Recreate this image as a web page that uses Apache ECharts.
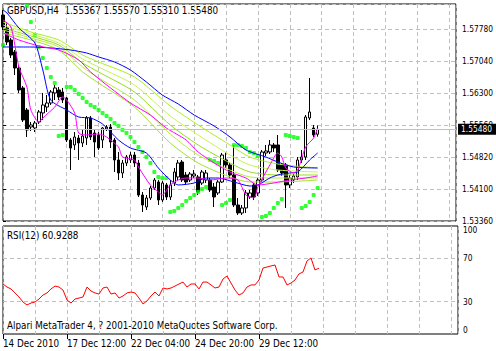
<!DOCTYPE html>
<html><head><meta charset="utf-8">
<script src="https://cdn.jsdelivr.net/npm/echarts@6.0.0/dist/echarts.min.js"></script>
<style>html,body{margin:0;padding:0;background:#fff}#c{width:496px;height:351px}</style>
</head><body><div id="c"></div>
<script>
// ---- data (GBPUSD H4) ----
const opens = [1.58124,1.57823,1.57546,1.57268,1.56898,1.56436,1.55927,1.55534,1.55511,1.55649,
1.55858,1.55996,1.56089,1.56320,1.56389,1.56343,1.56204,1.55233,1.55118,1.55279,
1.55164,1.55279,1.55742,1.55395,1.55349,1.55233,1.55488,1.55534,1.55233,1.54771,
1.54470,1.54701,1.54771,1.54886,1.54701,1.53961,1.53684,1.53892,1.54123,1.54262,
1.53846,1.54193,1.53915,1.54239,1.54378,1.54724,1.54424,1.54308,1.54401,1.54378,
1.54239,1.54308,1.54308,1.54146,1.54008,1.54262,1.54771,1.54655,1.54424,1.53730,
1.53545,1.53661,1.53915,1.54193,1.54008,1.54308,1.54933,1.54956,1.55118,1.55118,
1.54655,1.54655,1.54193,1.54308,1.54378,1.54771,1.54840,1.55742,1.55511,1.55367];
const closes = [1.57846,1.57499,1.57199,1.56898,1.56389,1.55696,1.55464,1.55580,1.55626,1.55881,
1.56043,1.56089,1.56343,1.56436,1.56228,1.56158,1.55233,1.55048,1.55303,1.55164,
1.55326,1.55742,1.55303,1.55187,1.55048,1.55511,1.55534,1.55187,1.54771,1.54470,
1.54701,1.54840,1.54886,1.54701,1.53961,1.53730,1.53892,1.54123,1.54308,1.53846,
1.54239,1.53915,1.54193,1.54493,1.54701,1.54308,1.54262,1.54447,1.54447,1.54031,
1.54493,1.54470,1.54077,1.53915,1.54262,1.54886,1.54655,1.54424,1.53730,1.53545,
1.53661,1.54008,1.54008,1.53915,1.54308,1.54956,1.54979,1.55118,1.55048,1.54539,
1.54470,1.54193,1.54354,1.54401,1.54771,1.54840,1.55765,1.55881,1.55349,1.55480];
const lows = [1.57777,1.57430,1.57129,1.56736,1.56320,1.55649,1.55303,1.55441,1.55418,1.55603,
1.55696,1.55881,1.56043,1.56158,1.56158,1.56089,1.55187,1.54539,1.55002,1.54771,
1.55071,1.55118,1.55233,1.54840,1.55002,1.55048,1.55441,1.55048,1.54493,1.54308,
1.54354,1.54632,1.54701,1.54609,1.53915,1.53568,1.53614,1.53846,1.54077,1.53730,
1.53799,1.53846,1.53846,1.54169,1.54308,1.54262,1.54193,1.54262,1.54354,1.53961,
1.54193,1.54239,1.54031,1.53684,1.53961,1.54239,1.54586,1.54354,1.53684,1.53499,
1.53499,1.53545,1.53869,1.53846,1.53938,1.54262,1.54863,1.54909,1.54956,1.54493,
1.54401,1.53661,1.54123,1.54239,1.54308,1.54701,1.54771,1.55696,1.55303,1.55310];
const highs = [1.58239,1.57962,1.57592,1.57314,1.56968,1.56482,1.55973,1.55649,1.55673,1.55927,
1.56320,1.56274,1.56389,1.56505,1.56459,1.56436,1.56228,1.55279,1.55418,1.55349,
1.55464,1.55788,1.55788,1.55464,1.55418,1.55534,1.55580,1.55603,1.55279,1.54956,
1.54771,1.54886,1.54956,1.54956,1.54771,1.54031,1.53961,1.54169,1.54354,1.54308,
1.54285,1.54239,1.54308,1.54586,1.54771,1.54771,1.54493,1.54493,1.54539,1.54424,
1.54539,1.54539,1.54354,1.54239,1.54308,1.54933,1.54956,1.54701,1.55118,1.53892,
1.53730,1.54077,1.54077,1.54239,1.54354,1.55002,1.55118,1.55233,1.55164,1.55349,
1.54701,1.54701,1.54424,1.54447,1.54840,1.55002,1.55811,1.56667,1.55580,1.55570];
const sar = [1.57430,null,null,null,null,null,1.58332,1.57962,1.57661,1.57384,
1.57129,1.56898,1.56690,1.56551,1.55326,1.55349,1.56459,1.56459,1.56389,1.56297,
1.56204,1.56112,1.56043,1.55996,1.55927,1.55858,1.55788,1.55719,1.55626,1.55557,
1.55464,1.55395,1.55303,1.55187,1.55071,1.54956,1.54840,1.54701,1.54493,1.54378,
1.54354,1.54354,1.53568,1.53591,1.53661,1.53730,1.53823,1.53892,1.53961,1.54031,
1.54100,1.54146,1.54771,1.54748,1.54701,1.53730,1.53776,1.53846,1.55118,1.55118,
1.55094,1.55048,1.54956,1.54933,1.54863,1.53453,1.53476,1.53545,1.53661,1.53776,
1.53869,1.55349,1.55326,1.55303,1.55279,1.53661,1.53707,1.53799,1.53961,1.54123];
const slowBlueIdx = [0,7,12,17,21,24,28,32,36,40,44,48,53,57,61,66,69,73,79];
const slowBlueVal = [1.57384,1.57384,1.57361,1.57314,1.57245,1.57153,1.57037,1.56852,1.56574,1.56274,1.56066,1.55811,1.55557,1.55303,1.55002,1.54840,1.54724,1.54609,1.54586];
const fastBlueIdx = [0,1,4,8,10,12,16,19,22,25,29,32,36,39,42,44,48,51,54,58,62,64,67,69,72,74,77,79];
const fastBlueVal = [1.58239,1.58170,1.57823,1.57476,1.56852,1.56158,1.55927,1.55765,1.55742,1.55603,1.55233,1.55048,1.54933,1.54586,1.54308,1.54193,1.54239,1.54354,1.54354,1.54262,1.54169,1.54193,1.54354,1.54424,1.54470,1.54493,1.54771,1.54933];
const fastMagIdx = [0,2,4,6,7,9,10,13,15,16,18,19,21,24,26,29,30,33,34,37,39,40,42,44,46,49,52,56,59,61,63,64,67,69,70,71,73,74,76,78,79];
const fastMagVal = [1.58008,1.57846,1.56921,1.56459,1.55927,1.55649,1.55742,1.55996,1.56228,1.56158,1.55858,1.55395,1.55349,1.55372,1.55303,1.55071,1.54840,1.54771,1.54609,1.54193,1.54031,1.53961,1.54193,1.54308,1.54354,1.54354,1.54308,1.54354,1.54308,1.53961,1.53892,1.54146,1.54655,1.54933,1.54840,1.54586,1.54470,1.54539,1.55071,1.55279,1.55511];
const slowMagIdx = [0,4,9,14,19,22,27,32,37,41,46,49,53,57,61,64,68,72,76,79];
const slowMagVal = [1.57708,1.57546,1.57407,1.57314,1.57083,1.56806,1.56436,1.56089,1.55811,1.55511,1.55233,1.54956,1.54701,1.54493,1.54354,1.54193,1.54239,1.54308,1.54354,1.54401];
const fanIdx = [0,7,14,20,24,33,42,49,57,62,69,79];
const fan1 = [1.57962,1.57731,1.57546,1.57199,1.57037,1.56690,1.56019,1.55580,1.55118,1.54840,1.54678,1.54586];
const fan2 = [1.57893,1.57684,1.57476,1.57106,1.56921,1.56505,1.55788,1.55349,1.54886,1.54655,1.54539,1.54493];
const fan3 = [1.57823,1.57638,1.57430,1.57014,1.56806,1.56343,1.55580,1.55118,1.54701,1.54493,1.54424,1.54424];
const fan4 = [1.57777,1.57592,1.57384,1.56921,1.56667,1.56158,1.55372,1.54886,1.54539,1.54378,1.54354,1.54354];
const fan5 = [1.57708,1.57546,1.57314,1.56806,1.56551,1.55996,1.55164,1.54701,1.54378,1.54262,1.54262,1.54308];
const rsi = [46.3,43.5,41.7,38.0,34.3,29.6,26.9,28.7,29.6,32.4,
36.1,38.0,41.7,44.4,43.5,40.7,31.5,28.7,32.4,33.3,
34.3,43.5,39.8,38.0,37.0,42.6,43.5,37.0,38.0,33.3,
35.2,38.0,38.9,38.0,33.3,27.8,30.6,35.2,38.9,35.2,
42.6,41.7,42.6,44.4,46.3,48.1,43.5,46.3,46.3,41.7,
48.1,48.1,45.4,42.6,43.5,50.9,53.7,47.2,40.7,36.1,
38.0,43.5,45.4,45.4,50.0,61.1,62.0,63.0,63.9,52.8,
52.8,45.4,47.2,50.0,55.6,57.4,67.6,70.4,59.3,60.93];
const priceTickLabels = ['1.53360','1.54100','1.54820','1.55560','1.56300','1.57040','1.57780'];
const dateTickValues = [0,16,32,48,64];
const dateTickLabels = ['14 Dec 2010','17 Dec 12:00','22 Dec 04:00','24 Dec 20:00','29 Dec 12:00'];
const rsiTickValues = [0,30,70,100];
const titleText = 'GBPUSD,H4  1.55367 1.55570 1.55310 1.55480';
const rsiText = 'RSI(12) 60.9288';
const copyText = 'Alpari MetaTrader 4, ? 2001-2010 MetaQuotes Software Corp.';

// ---- layout ----
const FONT = '"Liberation Sans Narrow","DejaVu Sans Condensed","Liberation Sans",sans-serif';
const mctx = document.createElement('canvas').getContext('2d');
function textWidth(size, text) { mctx.font = size + 'px ' + FONT; return mctx.measureText(text).width; }
// scale the font so that the texts occupy the same width as in the reference
const FS_NUM = Math.min(11, 10.5 * 31 / textWidth(10.5, '1.57780'));
const FS_TXT = Math.min(11, 10.5 * 271 / textWidth(10.5, copyText));
const PRICE_MIN = 1.5336, PRICE_STEP = 0.0074, PRICE_MAX = 1.58378;
const X_MAX = 113.75;
const GRIDC = '#c0c0c0';
const dash = [4, 3];

function pairs(idx, vals) { return idx.map((x, k) => [x, vals[k]]); }
function maLine(name, idx, vals, color, extra) {
  return Object.assign({ name, type: 'line', xAxisIndex: 0, yAxisIndex: 0, data: pairs(idx, vals),
    showSymbol: false, symbol: 'none', smooth: 0.25, silent: true,
    lineStyle: { color, width: 1 }, emphasis: { disabled: true } }, extra || {});
}

const candleData = opens.map((o, i) => [i, o, closes[i], lows[i], highs[i]]);
const sarData = sar.map((v, i) => v == null ? null : [i, v]).filter(d => d);
const rsiData = rsi.map((v, i) => [i, v]);
const rsiSplitColors = [];
for (let v = 0; v <= 100; v += 10) rsiSplitColors.push((v === 30 || v === 70) ? GRIDC : 'rgba(0,0,0,0)');
const lastClose = closes[closes.length - 1];

const chart = echarts.init(document.getElementById('c'), null, { renderer: 'svg', width: 496, height: 351 });
chart.setOption({
  animation: false,
  backgroundColor: '#ffffff',
  grid: [
    { left: 3, top: 4, width: 455, height: 217, show: true, borderColor: '#000', borderWidth: 1, backgroundColor: 'rgba(0,0,0,0)' },
    { left: 3, top: 226, width: 455, height: 108, show: true, borderColor: '#000', borderWidth: 1, backgroundColor: 'rgba(0,0,0,0)' }
  ],
  xAxis: [
    { gridIndex: 0, type: 'value', min: 0, max: X_MAX, interval: 8,
      axisLine: { show: false }, axisTick: { show: false }, axisLabel: { show: false },
      splitLine: { show: true, lineStyle: { color: GRIDC, type: dash, width: 1 } } },
    { gridIndex: 1, type: 'value', min: 0, max: X_MAX, interval: 8,
      axisLine: { show: false }, axisTick: { show: false }, axisLabel: { show: false },
      splitLine: { show: true, lineStyle: { color: GRIDC, type: dash, width: 1 } } },
    { gridIndex: 1, type: 'value', position: 'bottom', min: 0, max: X_MAX, interval: 16,
      axisLine: { show: false },
      axisTick: { show: true, length: 5, customValues: dateTickValues, lineStyle: { color: '#000' } },
      axisLabel: { show: true, customValues: dateTickValues, align: 'left', margin: 4, color: '#000',
        fontSize: FS_TXT, fontFamily: FONT, hideOverlap: false,
        formatter: v => { const k = dateTickValues.indexOf(v); return k >= 0 ? dateTickLabels[k] : ''; } },
      splitLine: { show: false } }
  ],
  yAxis: [
    { gridIndex: 0, type: 'value', position: 'right', min: PRICE_MIN, max: PRICE_MAX, interval: PRICE_STEP,
      axisLine: { show: false },
      axisTick: { show: true, length: 3, lineStyle: { color: '#000' } },
      axisLabel: { show: true, margin: 6, color: '#000', fontSize: FS_NUM, fontFamily: FONT, showMaxLabel: false,
        formatter: v => { const k = Math.round((v - PRICE_MIN) / PRICE_STEP);
          return (Math.abs(PRICE_MIN + k * PRICE_STEP - v) < 1e-6 && priceTickLabels[k]) || ''; } },
      splitLine: { show: true, lineStyle: { color: GRIDC, type: dash, width: 1 } } },
    { gridIndex: 1, type: 'value', position: 'right', min: 0, max: 100, interval: 10,
      axisLine: { show: false }, axisTick: { show: false },
      axisLabel: { show: true, margin: 5, color: '#000', fontSize: FS_NUM, fontFamily: FONT,
        verticalAlignMaxLabel: 'top', verticalAlignMinLabel: 'bottom',
        formatter: v => rsiTickValues.indexOf(v) >= 0 ? String(v) : '' },
      splitLine: { show: true, lineStyle: { color: rsiSplitColors, type: dash, width: 1 } } }
  ],
  series: [
    { name: 'GBPUSD', type: 'candlestick', xAxisIndex: 0, yAxisIndex: 0, data: candleData,
      barWidth: 3, silent: true, clip: true,
      itemStyle: { color: '#ffffff', color0: '#000000', borderColor: '#000000', borderColor0: '#000000', borderWidth: 1 } },
    maLine('fan1', fanIdx, fan1, '#a8f020'),
    maLine('fan2', fanIdx, fan2, '#c4f550'),
    maLine('fan3', fanIdx, fan3, '#96dc1e'),
    maLine('fan4', fanIdx, fan4, '#b6ee36'),
    maLine('fan5', fanIdx, fan5, '#a2e22a'),
    maLine('slowBlue', slowBlueIdx, slowBlueVal, '#0000ff'),
    maLine('slowMag', slowMagIdx, slowMagVal, '#ff00ff'),
    maLine('fastBlue', fastBlueIdx, fastBlueVal, '#0000ff'),
    maLine('fastMag', fastMagIdx, fastMagVal, '#ff00ff', {
      markLine: { silent: true, symbol: ['none', 'none'], animation: false, precision: 5,
        lineStyle: { color: GRIDC, type: 'solid', width: 1 },
        label: { show: true, position: 'end', distance: 2, color: '#fff', backgroundColor: '#000',
          padding: [2, 6, 1, 3], fontSize: FS_NUM, fontFamily: FONT, formatter: () => lastClose.toFixed(5) },
        emphasis: { disabled: true },
        data: [{ yAxis: lastClose }] } }),
    { name: 'SAR', type: 'scatter', xAxisIndex: 0, yAxisIndex: 0, data: sarData, silent: true,
      symbol: 'roundRect', symbolSize: 4, itemStyle: { color: '#00ff00' } },
    { name: 'RSI', type: 'line', xAxisIndex: 1, yAxisIndex: 1, data: rsiData, silent: true,
      showSymbol: false, symbol: 'none', lineStyle: { color: '#ff0000', width: 1 } }
  ],
  graphic: [
    { type: 'text', left: 7, top: 5, silent: true, style: { text: titleText, fill: '#000', font: FS_TXT + 'px ' + FONT } },
    { type: 'text', left: 7, top: 230, silent: true, style: { text: rsiText, fill: '#000', font: FS_TXT + 'px ' + FONT } },
    { type: 'text', left: 7, top: 320, silent: true, style: { text: copyText, fill: '#000', font: FS_TXT + 'px ' + FONT } }
  ]
});
</script></body></html>
